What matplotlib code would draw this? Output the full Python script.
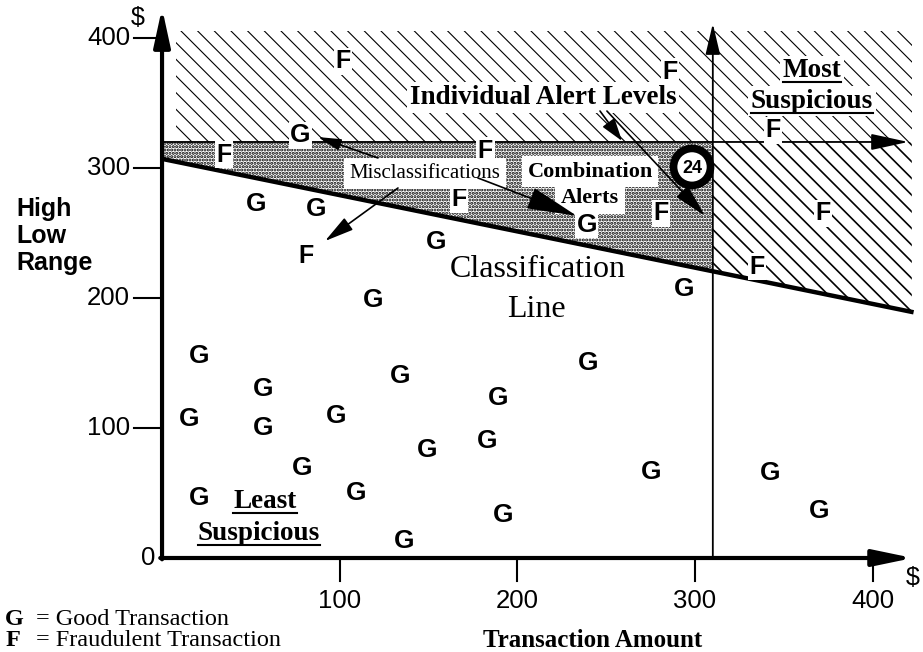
import numpy as np
import matplotlib.pyplot as plt
from matplotlib.patches import Polygon, Ellipse

# good transactions (amount $, high-low range $)
good_x = [78, 53, 87, 154, 239, 119, 294, 21, 57, 134, 240, 15, 57, 98, 189,
          79, 149, 183, 21, 109, 275, 192, 136, 342, 370]
good_y = [327, 274, 270, 245, 258, 200, 209, 157, 132, 142, 152, 109, 102, 111, 125,
          71, 85, 92, 48, 52, 68, 35, 15, 67, 38]

# fraudulent transactions
fraud_x = [102, 286, 344, 35, 182, 167, 281, 372, 81, 335]
fraud_y = [384, 376, 331, 312, 315, 278, 267, 267, 234, 226]

x_ticks = [100, 200, 300, 400]
y_ticks = [100, 200, 300, 400]

# classification line end points
class_x = [0, 423]
class_y = [307, 189]

# individual alert levels
amount_alert = 310
range_alert = 320
hatch_top = 405
hatch_right = 422

SANS = ['Liberation Sans', 'DejaVu Sans']
SERIF = ['Liberation Serif', 'DejaVu Serif']

fig = plt.figure(figsize=(9.23, 6.52), dpi=100)
ax = fig.add_axes([0, 0, 1, 1])
ax.set_xlim(-91.2, 428.3)
ax.set_ylim(-72.3, 429.2)
ax.axis('off')


def class_line(x):
    return np.interp(x, class_x, class_y)


# hatched "individual alert" regions (hatch width is read when the patch is made)
plt.rcParams['hatch.linewidth'] = 0.8
top = Polygon([(8, range_alert), (hatch_right, range_alert),
               (hatch_right, hatch_top), (8, hatch_top)],
              closed=True, fc='white', ec='black', lw=0, hatch='\\\\', zorder=1)
plt.rcParams['hatch.linewidth'] = 1.2
right = Polygon([(amount_alert, class_line(amount_alert)), (hatch_right, class_line(hatch_right)),
                 (hatch_right, range_alert), (amount_alert, range_alert)],
                closed=True, fc='white', ec='black', lw=0, hatch='\\\\', zorder=1)
# dotted "combination alert" region
plt.rcParams['hatch.linewidth'] = 1.5
dots = Polygon([(0, class_y[0]), (amount_alert, class_line(amount_alert)),
                (amount_alert, range_alert), (0, range_alert)],
               closed=True, fc='white', ec='black', lw=0, hatch='.....', zorder=1)
for p in (top, right, dots):
    ax.add_patch(p)

# classification line
ax.plot(class_x, class_y, color='k', lw=3.2, solid_capstyle='butt', zorder=2)


def arrow(x0, y0, x1, y1, lw, hl, hw, z=3):
    ax.annotate('', xy=(x1, y1), xytext=(x0, y0),
                arrowprops=dict(arrowstyle='-|>,head_length=%g,head_width=%g' % (hl, hw),
                                mutation_scale=10, lw=lw, color='k',
                                shrinkA=0, shrinkB=0),
                zorder=z)


# alert level lines
arrow(amount_alert, 0, amount_alert, 411, 1.3, 1.9, 0.45)
arrow(0, range_alert, 420, range_alert, 1.3, 2.3, 0.5)

# main axes
arrow(0, -1, 0, 423, 3, 2.3, 0.5)
arrow(-1, 0, 422.6, 0, 3, 2.4, 0.5)

# ticks
for t in x_ticks:
    ax.plot([t, t], [0, -18], color='k', lw=1.5, zorder=3)
    ax.text(t, -33, str(t), ha='center', va='center', fontsize=18.5, family=SANS)
for t in y_ticks:
    ax.plot([-16, 0], [t, t], color='k', lw=1.5, zorder=3)
    ax.text(-18, t, str(t), ha='right', va='center', fontsize=18.5, family=SANS)
ax.text(-4, 0, '0', ha='right', va='center', fontsize=18.5, family=SANS)
ax.text(-13.5, 415, '$', ha='center', va='center', fontsize=18, family=SANS)
ax.text(422.6, -15.4, '$', ha='center', va='center', fontsize=18, family=SANS)

# transactions
for x, y in zip(good_x, good_y):
    ax.text(x, y, 'G', ha='center', va='center_baseline', fontsize=19, weight='bold',
            family=SANS, zorder=4, bbox=dict(fc='white', ec='none', pad=1))
for x, y in zip(fraud_x, fraud_y):
    ax.text(x, y, 'F', ha='center', va='center_baseline', fontsize=18, weight='bold',
            family=SANS, zorder=4, bbox=dict(fc='white', ec='none', pad=1))

white = dict(fc='white', ec='none', pad=2)
ax.text(214.4, 356.5, 'Individual Alert Levels', ha='center', va='center_baseline',
        fontsize=19.5, weight='bold', family=SERIF, zorder=4, bbox=white)
most = ax.text(365.8, 376.9, 'Most', ha='center', va='center_baseline',
               fontsize=19.5, weight='bold', family=SERIF, zorder=4, bbox=white)
most2 = ax.text(365.8, 353.8, 'Suspicious', ha='center', va='center_baseline',
                fontsize=19.5, weight='bold', family=SERIF, zorder=4, bbox=white)
least = ax.text(58, 45.4, 'Least', ha='center', va='center_baseline',
                fontsize=19.5, weight='bold', family=SERIF, zorder=4)
least2 = ax.text(54.6, 20.8, 'Suspicious', ha='center', va='center_baseline',
                 fontsize=19.5, weight='bold', family=SERIF, zorder=4)
ax.text(240.9, 299.2, 'Combination', ha='center', va='center_baseline',
        fontsize=16, weight='bold', family=SERIF, zorder=4, bbox=dict(fc='white', ec='none', pad=4))
ax.text(240.9, 278.5, 'Alerts', ha='center', va='center_baseline',
        fontsize=16, weight='bold', family=SERIF, zorder=4, bbox=dict(fc='white', ec='none', pad=4))
ax.text(148, 297.7, 'Misclassifications', ha='center', va='center_baseline',
        fontsize=15, family=SERIF, zorder=4, bbox=dict(fc='white', ec='none', pad=4))
ax.text(211.6, 224.6, 'Classification', ha='center', va='center_baseline',
        fontsize=23, family=SERIF, zorder=4)
ax.text(210.5, 193.8, 'Line', ha='center', va='center_baseline',
        fontsize=23, family=SERIF, zorder=4)
ax.text(-82, 247.7, 'High\nLow\nRange', ha='left', va='center', fontsize=18,
        weight='bold', family=SANS, linespacing=1.15)
ax.text(242.5, -61.5, 'Transaction Amount', ha='center', va='center_baseline',
        fontsize=18, weight='bold', family=SERIF)

# legend
ax.text(-88.3, -45, 'G', ha='left', va='center_baseline', fontsize=17.5,
        weight='bold', family=SERIF)
ax.text(-70.8, -45, '= Good Transaction', ha='left', va='center_baseline',
        fontsize=17.5, family=SERIF)
ax.text(-88.3, -61.5, 'F', ha='left', va='center_baseline', fontsize=17.5,
        weight='bold', family=SERIF)
ax.text(-70.8, -61.5, '= Fraudulent Transaction', ha='left', va='center_baseline',
        fontsize=17.5, family=SERIF)

# callout arrows
arrow(121.5, 307.7, 87.8, 323.8, 1.2, 1.4, 0.35, z=5)
arrow(132.8, 284.6, 91.7, 243.8, 1.2, 1.8, 0.45, z=5)
arrow(177.8, 292.3, 233.5, 263.1, 1.2, 3.2, 0.7, z=5)
arrow(246.5, 343.8, 258.9, 320.8, 1.2, 1.4, 0.45, z=5)
arrow(250.4, 343.8, 305.6, 263.1, 1.2, 2.1, 0.5, z=5)

# reference numeral 24
ax.add_patch(Ellipse((298.3, 300.8), 2 * 18.5 / 1.777, 2 * 18.5 / 1.3,
                     fc='white', ec='black', lw=5.5, zorder=6))
ax.text(298.3, 300.8, '24', ha='center', va='center_baseline', fontsize=13,
        weight='bold', family=SANS, zorder=7)

# underline the suspicious labels
fig.canvas.draw()
renderer = fig.canvas.get_renderer()
inv = ax.transData.inverted()
for t in (most, most2, least, least2):
    bb = t.get_window_extent(renderer)
    (x0, y0), (x1, _) = inv.transform([(bb.x0, bb.y0 + 1), (bb.x1, bb.y0 + 1)])
    ax.plot([x0, x1], [y0, y0], color='k', lw=1.5, zorder=6)

fig.savefig('out.png', dpi=100)
